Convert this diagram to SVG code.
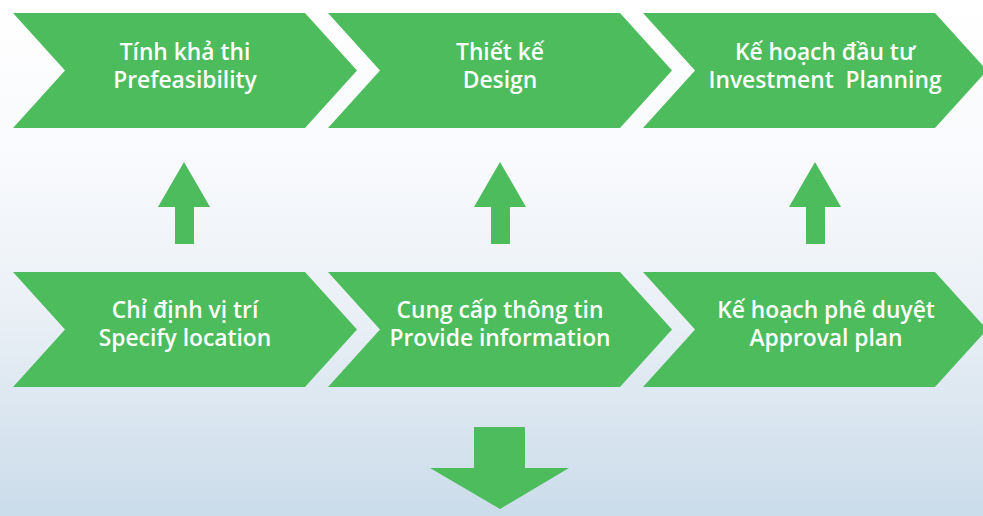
<svg xmlns="http://www.w3.org/2000/svg" width="983" height="516" viewBox="0 0 983 516">
  <defs>
    <linearGradient id="bg" x1="0" y1="0" x2="0" y2="1">
      <stop offset="0" stop-color="#ffffff"/>
      <stop offset="0.3" stop-color="#f9fafd"/>
      <stop offset="0.6" stop-color="#eaf0f6"/>
      <stop offset="1" stop-color="#cbdcea"/>
    </linearGradient>
    <style>
      .chev { fill: #4cbc5c; }
      .arrow { fill: #4cbc5c; }
      .lbl { font-family: "Open Sans", "Noto Sans", "DejaVu Sans", sans-serif; font-weight: 600; font-size: 22.8px; fill: #ffffff; text-anchor: middle; white-space: pre; }
    </style>
  </defs>
  <rect x="0" y="0" width="983" height="516" fill="url(#bg)"/>

  <g id="prefeasibility">
    <polygon class="chev" points="13,13 305,13 357,70.5 305,128 13,128 65,70.5"/>
    <text class="lbl" x="185" y="60">Tính khả thi</text>
    <text class="lbl" x="185" y="88">Prefeasibility</text>
  </g>
  <g id="design">
    <polygon class="chev" points="328,13 620,13 672,70.5 620,128 328,128 380,70.5"/>
    <text class="lbl" x="500" y="60">Thiết kế</text>
    <text class="lbl" x="500" y="88">Design</text>
  </g>
  <g id="investment-planning">
    <polygon class="chev" points="643,13 935,13 987,70.5 935,128 643,128 695,70.5"/>
    <text class="lbl" x="825" y="60">Kế hoạch đầu tư</text>
    <text class="lbl" x="825" y="88" xml:space="preserve">Investment  Planning</text>
  </g>

  <g id="specify-location">
    <polygon class="chev" points="13,272 305,272 357,329.5 305,387 13,387 65,329.5"/>
    <text class="lbl" x="185" y="318">Chỉ định vị trí</text>
    <text class="lbl" x="185" y="346">Specify location</text>
  </g>
  <g id="provide-information">
    <polygon class="chev" points="328,272 620,272 672,329.5 620,387 328,387 380,329.5"/>
    <text class="lbl" x="500" y="318">Cung cấp thông tin</text>
    <text class="lbl" x="500" y="346">Provide information</text>
  </g>
  <g id="approval-plan">
    <polygon class="chev" points="643,272 935,272 987,329.5 935,387 643,387 695,329.5"/>
    <text class="lbl" x="826" y="318">Kế hoạch phê duyệt</text>
    <text class="lbl" x="826" y="346">Approval plan</text>
  </g>

  <g id="connectors">
    <polygon class="arrow" points="184,162 210,207 194,207 194,244 175,244 175,207 158,207"/>
    <polygon class="arrow" points="500,162 526,207 510,207 510,244 491,244 491,207 474,207"/>
    <polygon class="arrow" points="815,162 841,207 825,207 825,244 806,244 806,207 789,207"/>
    <polygon class="arrow" points="474,427 525,427 525,468 569,468 500,509 430,468 474,468"/>
  </g>
</svg>
